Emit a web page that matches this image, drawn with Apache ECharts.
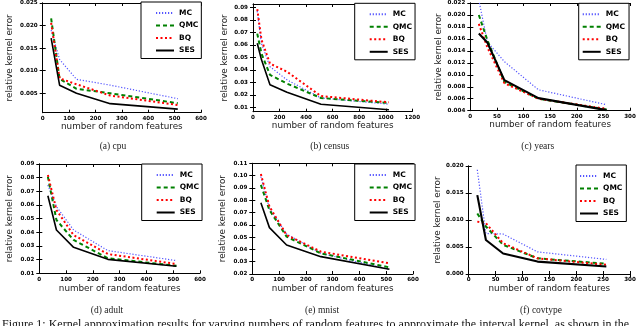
<!DOCTYPE html>
<html>
<head>
<meta charset="utf-8">
<script src="https://cdn.jsdelivr.net/npm/echarts@6/dist/echarts.min.js"></script>
<style>
html, body { margin: 0; padding: 0; background: #fff; }
#chart { width: 640px; height: 326px; }
</style>
</head>
<body>
<div id="chart"></div>
<script>
var names = ['MC', 'QMC', 'BQ', 'SES'];

// (a) cpu
var cpuX   = [32, 64, 128, 256, 512];
var cpuMC  = [0.0190, 0.0125, 0.0081, 0.0068, 0.0038];
var cpuQMC = [0.0216, 0.0082, 0.0060, 0.0050, 0.0028];
var cpuBQ  = [0.0206, 0.0083, 0.0070, 0.0045, 0.0024];
var cpuSES = [0.0172, 0.0068, 0.0050, 0.0027, 0.0015];

// (b) census
var censusX   = [32, 64, 128, 256, 512, 1024];
var censusMC  = [0.0870, 0.0610, 0.0425, 0.0320, 0.0175, 0.0125];
var censusQMC = [0.0690, 0.0530, 0.0360, 0.0290, 0.0175, 0.0135];
var censusBQ  = [0.0885, 0.0640, 0.0450, 0.0385, 0.0190, 0.0140];
var censusSES = [0.0613, 0.0480, 0.0280, 0.0220, 0.0125, 0.0080];

// (c) years
var yearsX   = [16, 32, 64, 128, 256];
var yearsMC  = [0.0225, 0.0155, 0.0122, 0.0075, 0.0050];
var yearsQMC = [0.0200, 0.0158, 0.0088, 0.0060, 0.0042];
var yearsBQ  = [0.0185, 0.0146, 0.0086, 0.0060, 0.0043];
var yearsSES = [0.0169, 0.0154, 0.0091, 0.0061, 0.0041];

// (d) adult
var adultX   = [32, 64, 128, 256, 512];
var adultMC  = [0.0746, 0.0588, 0.0417, 0.0266, 0.0193];
var adultQMC = [0.0807, 0.0490, 0.0344, 0.0210, 0.0155];
var adultBQ  = [0.0820, 0.0563, 0.0380, 0.0241, 0.0168];
var adultSES = [0.0668, 0.0417, 0.0290, 0.0202, 0.0152];

// (e) mnist
var mnistX   = [32, 64, 128, 256, 512];
var mnistMC  = [0.0992, 0.0734, 0.0525, 0.0368, 0.0238];
var mnistQMC = [0.0924, 0.0720, 0.0504, 0.0368, 0.0254];
var mnistBQ  = [0.1013, 0.0748, 0.0517, 0.0382, 0.0287];
var mnistSES = [0.0780, 0.0577, 0.0436, 0.0341, 0.0238];

// (f) covtype
var covX   = [16, 32, 64, 128, 256];
var covMC  = [0.0193, 0.0075, 0.0074, 0.0041, 0.0027];
var covQMC = [0.0112, 0.0088, 0.0054, 0.0029, 0.0019];
var covBQ  = [0.0097, 0.0094, 0.0057, 0.0029, 0.0017];
var covSES = [0.0146, 0.0063, 0.0038, 0.0023, 0.0014];

// tick labels
var ticks600 = [0, 100, 200, 300, 400, 500, 600];
var ticks1200 = [0, 200, 400, 600, 800, 1000, 1200];
var ticks300 = [0, 50, 100, 150, 200, 250, 300];
var cpuYTicks = [0.005, 0.010, 0.015, 0.020, 0.025];
var censusYTicks = [0.01, 0.02, 0.03, 0.04, 0.05, 0.06, 0.07, 0.08, 0.09];
var yearsYTicks = [0.004, 0.006, 0.008, 0.010, 0.012, 0.014, 0.016, 0.018, 0.020, 0.022];
var adultYTicks = [0.01, 0.02, 0.03, 0.04, 0.05, 0.06, 0.07, 0.08, 0.09];
var mnistYTicks = [0.02, 0.03, 0.04, 0.05, 0.06, 0.07, 0.08, 0.09, 0.10, 0.11];
var covYTicks = [0.000, 0.005, 0.010, 0.015, 0.020];

var panels = [
    {cap: '(a) cpu', x: cpuX, ys: [cpuMC, cpuQMC, cpuBQ, cpuSES], xt: ticks600, yt: cpuYTicks, dec: 3,
     xMax: 600, yMin: 0.0007, yMax: 0.025, grid: [42.7, 2, 158.3, 110.7], leg: [141, 2], narrow: false, capX: 113, capY: 146.7, nameGap: 28},
    {cap: '(b) census', x: censusX, ys: [censusMC, censusQMC, censusBQ, censusSES], xt: ticks1200, yt: censusYTicks, dec: 2,
     xMax: 1200, yMin: 0.0065, yMax: 0.0927, grid: [253, 4, 159.3, 107.7], leg: [354.7, 3.3], narrow: false, capX: 329.7, capY: 146.7, nameGap: 24},
    {cap: '(c) years', x: yearsX, ys: [yearsMC, yearsQMC, yearsBQ, yearsSES], xt: ticks300, yt: yearsYTicks, dec: 3,
     xMax: 300, yMin: 0.004, yMax: 0.022, grid: [470.3, 3, 159.7, 107.7], leg: [578.7, 3.3], narrow: true, capX: 537.7, capY: 146.7, nameGap: 25},
    {cap: '(d) adult', x: adultX, ys: [adultMC, adultQMC, adultBQ, adultSES], xt: ticks600, yt: adultYTicks, dec: 2,
     xMax: 600, yMin: 0.01, yMax: 0.09, grid: [39.3, 164, 160.7, 109.3], leg: [141.7, 164], narrow: false, capX: 107, capY: 310.7, nameGap: 25},
    {cap: '(e) mnist', x: mnistX, ys: [mnistMC, mnistQMC, mnistBQ, mnistSES], xt: ticks600, yt: mnistYTicks, dec: 2,
     xMax: 600, yMin: 0.02, yMax: 0.11, grid: [252.3, 163.3, 160.7, 110.7], leg: [354.7, 164], narrow: false, capX: 322, capY: 310.7, nameGap: 25},
    {cap: '(f) covtype', x: covX, ys: [covMC, covQMC, covBQ, covSES], xt: ticks300, yt: covYTicks, dec: 3,
     xMax: 300, yMin: 0, yMax: 0.020, grid: [468.7, 166, 161.3, 108], leg: [576, 165], narrow: true, capX: 541, capY: 310.7, nameGap: 25}
];

var styles = [
    {color: '#5454ff', width: 1.2, type: [1.2, 1.8]},
    {color: '#008000', width: 2, type: [4, 3]},
    {color: '#ff0000', width: 2, type: [2, 2.5]},
    {color: '#000000', width: 1.6, type: 'solid'}
];

var tickFont = {fontFamily: 'DejaVu Sans', fontSize: 5.6, fontWeight: 'bold', color: '#000'};
var nameFont = {fontFamily: 'DejaVu Sans', fontSize: 8.8, color: '#222'};

var grids = [], xAxes = [], yAxes = [], series = [], legends = [], graphics = [];

panels.forEach(function (p, i) {
    grids.push({left: p.grid[0], top: p.grid[1], width: p.grid[2], height: p.grid[3], containLabel: false});
    var line = {show: true, lineStyle: {color: '#000', width: 1}};
    var xb = {type: 'value', gridIndex: i, min: 0, max: p.xMax, position: 'bottom', axisLine: line,
        splitLine: {show: false},
        axisTick: {inside: true, length: 3, customValues: p.xt, lineStyle: {color: '#000'}},
        axisLabel: Object.assign({margin: 3, customValues: p.xt, formatter: function (v) { return String(v); }}, tickFont),
        name: 'number of random features', nameLocation: 'middle', nameGap: i < 3 ? 9.5 : 10.5, nameTextStyle: nameFont};
    var xt = {type: 'value', gridIndex: i, min: 0, max: p.xMax, position: 'top', axisLine: line,
        splitLine: {show: false}, axisLabel: {show: false},
        axisTick: {inside: true, length: 3, customValues: p.xt, lineStyle: {color: '#000'}}};
    var dec = p.dec;
    var yl = {type: 'value', gridIndex: i, min: p.yMin, max: p.yMax, position: 'left', axisLine: line,
        splitLine: {show: false},
        axisTick: {inside: true, length: 3, customValues: p.yt, lineStyle: {color: '#000'}},
        axisLabel: Object.assign({margin: 5, customValues: p.yt, formatter: function (v) { return v.toFixed(dec); }}, tickFont),
        name: 'relative kernel error', nameLocation: 'middle', nameGap: p.nameGap, nameTextStyle: nameFont};
    var yr = {type: 'value', gridIndex: i, min: p.yMin, max: p.yMax, position: 'right', axisLine: line,
        splitLine: {show: false}, axisLabel: {show: false},
        axisTick: {inside: true, length: 3, customValues: p.yt, lineStyle: {color: '#000'}}};
    xAxes.push(xb, xt);
    yAxes.push(yl, yr);

    p.ys.forEach(function (vals, k) {
        var s = styles[k];
        var w = s.width;
        if (k === 3 && p.narrow) w = 2.1;
        series.push({
            name: names[k], type: 'line', xAxisIndex: 2 * i, yAxisIndex: 2 * i,
            data: p.x.map(function (xv, j) { return [xv, vals[j]]; }),
            symbol: 'none', animation: false, clip: true, z: k === 3 ? 3 : 2,
            lineStyle: {color: s.color, width: w, type: s.type},
            itemStyle: {color: s.color}
        });
    });

    legends.push({
        data: names, orient: 'vertical', left: p.leg[0], top: p.leg[1],
        padding: p.narrow ? [7, 4, 4, 3] : [7, 3, 4, 14],
        itemWidth: 18, itemHeight: 8, itemGap: 4.5,
        itemStyle: {opacity: 0},
        backgroundColor: '#fff', borderColor: '#000', borderWidth: 1, borderRadius: 0,
        textStyle: {fontFamily: 'DejaVu Sans', fontSize: 7.5, fontWeight: 'bold', color: '#000'},
        selectedMode: false
    });

    graphics.push({
        type: 'text', x: p.capX, y: p.capY,
        style: {text: p.cap, fontFamily: 'Liberation Serif', fontSize: 9.5, fill: '#222',
            textAlign: 'center', textVerticalAlign: 'middle'}
    });
});

graphics.push({
    type: 'text', x: 2, y: 319,
    style: {text: 'Figure 1: Kernel approximation results for varying numbers of random features to approximate the interval kernel, as shown in the',
        fontFamily: 'Liberation Serif', fontSize: 12, fill: '#111', textVerticalAlign: 'top'}
});

var myChart = echarts.init(document.getElementById('chart'));
var option = {
    backgroundColor: '#fff',
    animation: false,
    grid: grids,
    xAxis: xAxes,
    yAxis: yAxes,
    legend: legends,
    series: series,
    graphic: graphics
};
myChart.setOption(option, true);
</script>
</body>
</html>
